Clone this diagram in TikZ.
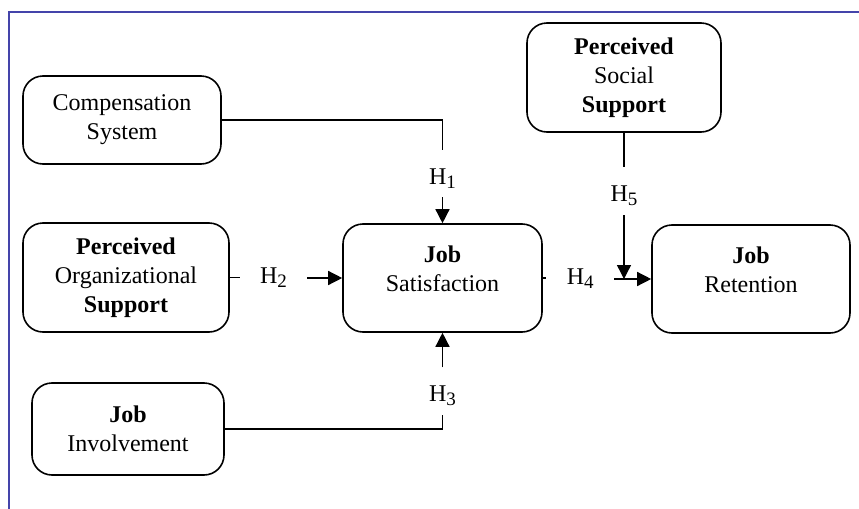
\documentclass[tikz,border=0pt]{standalone}
\usepackage{fontspec}
\setmainfont{Liberation Serif}
\usetikzlibrary{arrows.meta}
\definecolor{framecol}{RGB}{68,68,170}
\newcommand{\liftbox}{\rule[-9pt]{0pt}{9pt}}
\newcommand{\hsub}[1]{\raisebox{-2pt}{\fontsize{9.5}{10}\selectfont #1}}

\begin{document}
\begin{tikzpicture}[x=0.5pt,y=-0.5pt,
  varbox/.style={draw,line width=0.8pt,rounded corners=10pt,align=center,inner sep=0pt,font=\fontsize{12}{14.5}\selectfont},
  hyp/.style={inner sep=0pt,font=\fontsize{12}{14.5}\selectfont},
  vhyp/.style={hyp,anchor=base,text height=17pt,text depth=6.5pt},
  hhyp/.style={hyp,inner xsep=10pt},
  link/.style={line width=0.7pt},
  arr/.style={link,-{Triangle[length=7pt,width=7pt]}}]
  \useasboundingbox (0,0) rectangle (859,509);
  \draw[framecol,line width=1pt] (859,12) -- (9,12) -- (9,509);

  % variables
  \node[varbox,minimum width=99pt,minimum height=44pt] (comp) at (122,120) {Compensation\\System};
  \node[varbox,minimum width=103pt,minimum height=54.5pt] (pos) at (126,277.5) {\textbf{Perceived}\\Organizational\\\textbf{Support}};
  \node[varbox,minimum width=96pt,minimum height=46pt] (ji) at (128,429) {\textbf{Job}\\Involvement};
  \node[varbox,minimum width=99.5pt,minimum height=54pt] (js) at (442.5,278) {\textbf{Job}\\Satisfaction\liftbox};
  \node[varbox,minimum width=99pt,minimum height=54pt] (jr) at (751,279) {\textbf{Job}\\Retention\liftbox};
  \node[varbox,minimum width=97pt,minimum height=54.5pt] (ss) at (624,77.5) {\textbf{Perceived}\\Social\\\textbf{Support}};

  % hypotheses
  \node[vhyp] (h1) at (js.north |- 0,184) {H\hsub{1}};
  \node[hhyp] (h2) at (js.west -| 273.5,0) {H\hsub{2}};
  \node[vhyp] (h3) at (js.south |- 0,401.7) {H\hsub{3}};
  \node[hhyp] (h4) at (jr.west -| 580.2,0) {H\hsub{4}};
  \node[vhyp] (h5) at (ss.south |- 0,201.7) {H\hsub{5}};

  \draw[link] (comp.east) -| (h1.north);
  \draw[arr] (h1.south) -- (js.north);
  \draw[link] (pos.east) -- (pos.east -| h2.west);
  \draw[arr] (h2.east) -- (js.west);
  \draw[link] (ji.east) -| (h3.south);
  \draw[arr] (h3.north) -- (js.south);
  \draw[link] (js.east) -- (js.east -| h4.west);
  \draw[arr] (h4.east) -- (jr.west);
  \draw[link] (ss.south) -- (h5.north);
  \draw[arr] (h5.south) -- (h5.south |- jr.west);
\end{tikzpicture}
\end{document}
